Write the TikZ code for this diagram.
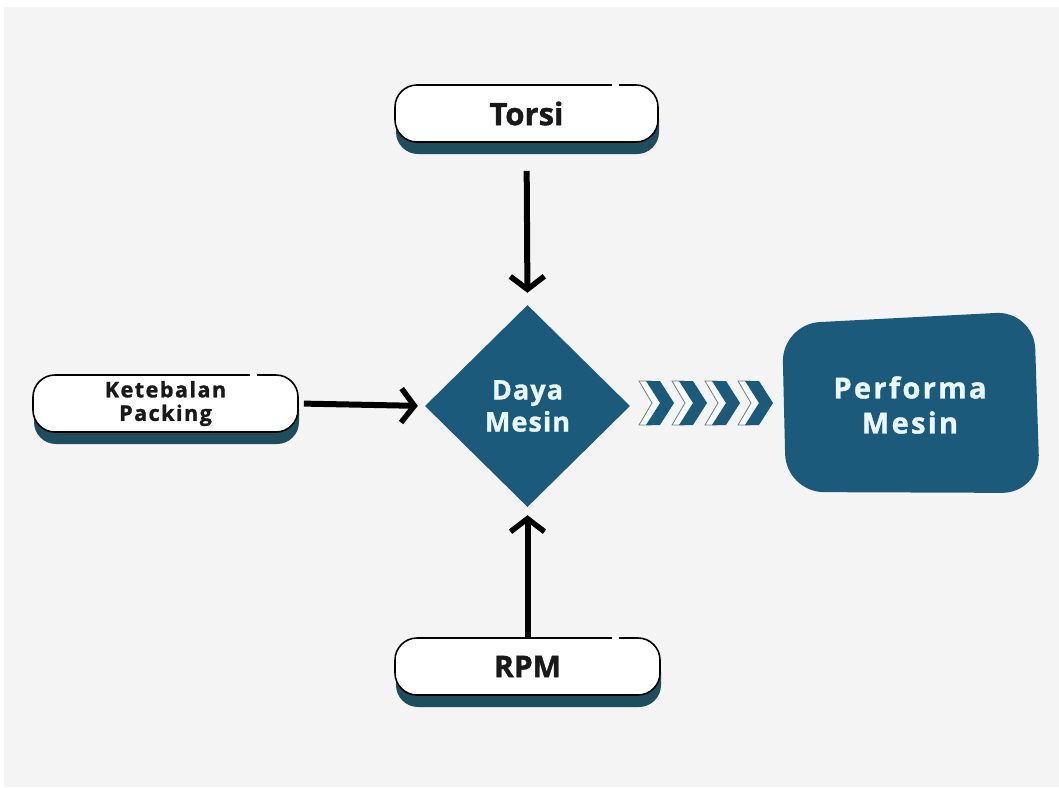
\documentclass[tikz,border=0pt]{standalone}
\usepackage{fontspec}
\setmainfont{Open Sans}[BoldFeatures={FakeBold=1.2}]
\newfontfamily\spacedA{Open Sans}[LetterSpace=7,BoldFeatures={FakeBold=1.2}]
\newfontfamily\spacedB{Open Sans}[LetterSpace=4,BoldFeatures={FakeBold=1.2}]
\newfontfamily\spacedC{Open Sans}[LetterSpace=8,BoldFeatures={FakeBold=1.2}]
\usetikzlibrary{arrows.meta,shapes.geometric,shadows}
\definecolor{bgc}{HTML}{F4F4F4}
\definecolor{tealc}{HTML}{1C5A7B}
\definecolor{shadc}{HTML}{1E4E5E}
\definecolor{lightt}{HTML}{EAF8FA}
\tikzset{
  pill/.style={draw=black, line width=1.6pt, fill=white, rounded corners=22pt,
    minimum height=57pt, align=center, text=black!90,
    drop shadow={shadow xshift=1pt, shadow yshift=-12pt, fill=shadc, opacity=1}},
  arr/.style={line width=6pt, -{Straight Barb[length=13pt,width=34pt,line width=5.5pt]}},
  gapline/.style={white, line width=3pt},
  chevfill/.style={fill=tealc, draw=none},
  chevline/.style={fill=white, draw=shadc!70, line width=0.8pt}
}
\begin{document}
\begin{tikzpicture}[x=1pt,y=-1pt]
\useasboundingbox (0,0) rectangle (1059,787);
\fill[bgc] (4,7) rectangle (1059,787);

% boxes
\node[pill, minimum width=263pt, font=\bfseries\fontsize{31}{36}\selectfont] (torsi) at (526.5,113.5) {Torsi};
\node[pill, minimum width=265pt, font=\spacedA\bfseries\fontsize{21.5}{23.5}\selectfont] (pack) at (165.5,403.5) {Ketebalan\\Packing};
\node[pill, minimum width=265pt, font=\bfseries\fontsize{30}{36}\selectfont] (rpm) at (527.5,666.5) {RPM};

% small gaps in outlines
\draw[gapline] (612,85) -- (619,85);
\draw[gapline] (250,375) -- (257,375);
\draw[gapline] (612,638) -- (619,638);

% diamond
\node[diamond, fill=tealc, minimum width=205pt, minimum height=202pt, inner sep=0pt,
  align=center, text=lightt, font=\spacedB\bfseries\fontsize{27}{32}\selectfont] (daya) at (527.5,406) {Daya\\Mesin};

% Performa blob
\fill[tealc, rounded corners=38pt] (782,324) -- (1034,311) -- (1040,493) -- (786,492) -- cycle;
\node[align=center, text=lightt, font=\spacedC\bfseries\fontsize{29}{35}\selectfont] (perf) at (910,405) {Performa\\Mesin};

% arrows
\draw[arr, shorten <=28pt, shorten >=12pt] (torsi.south) -- (daya.north);
\draw[arr, shorten <=5pt, shorten >=7pt] (pack.east) -- (daya.west);
\draw[arr, shorten >=8pt] (rpm.north) -- (daya.south);

% chevrons
\foreach \x in {646,679,712,745}{
  \draw[chevline] (\x-7,381) -- (\x+5,381) -- (\x+18,403) -- (\x+5,425) -- (\x-7,425) -- (\x+6,403) -- cycle;
  \fill[chevfill] (\x,381) -- (\x+14,381) -- (\x+28,403) -- (\x+14,425) -- (\x,425) -- (\x+14,403) -- cycle;
}
\end{tikzpicture}
\end{document}
